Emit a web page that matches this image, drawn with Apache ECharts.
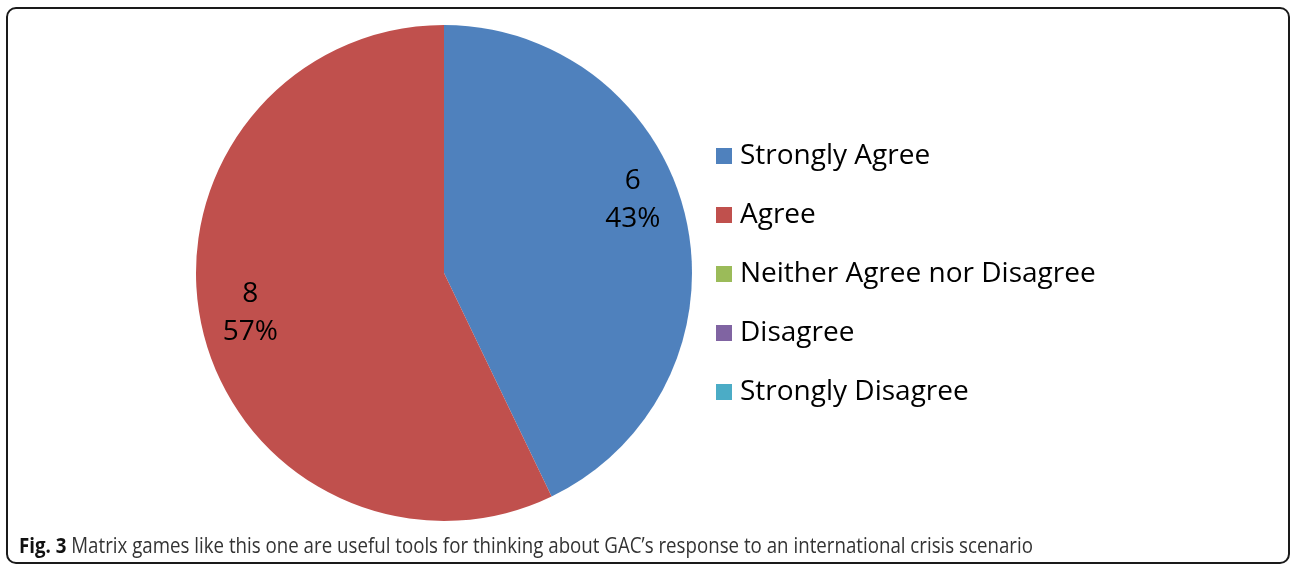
<!DOCTYPE html>
<html>
<head>
<meta charset="utf-8">
<script src="https://cdn.jsdelivr.net/npm/echarts@6/dist/echarts.min.js"></script>
<style>
  html, body { margin: 0; padding: 0; background: #fff; }
  #chart { width: 1292px; height: 567px; }
</style>
</head>
<body>
<div id="chart"></div>
<script>
const categories = ['Strongly Agree', 'Agree', 'Neither Agree nor Disagree', 'Disagree', 'Strongly Disagree'];
const counts = [6, 8, 0, 0, 0];
const colors = ['#4F81BD', '#C0504D', '#9BBB59', '#8064A2', '#4BACC6'];
const captionBold = 'Fig. 3';
const captionText = ' Matrix games like this one are useful tools for thinking about GAC\u2019s response to an international crisis scenario';

const total = counts.reduce((a, b) => a + b, 0);

const chart = echarts.init(document.getElementById('chart'), null, { renderer: 'canvas' });
const center = [444, 273];
const R = 248;

chart.setOption({
  animation: false,
  backgroundColor: '#ffffff',
  color: colors,
  legend: {
    orient: 'vertical',
    left: 711,
    top: 136,
    itemWidth: 16,
    itemHeight: 16,
    itemGap: 29,
    icon: 'rect',
    textStyle: { fontFamily: 'Open Sans', fontSize: 28, color: '#000', lineHeight: 30, padding: [0, 0, 0, 3] },
    data: categories
  },
  series: [
    {
      type: 'pie',
      center: center,
      radius: [0, R],
      startAngle: 90,
      clockwise: true,
      silent: true,
      itemStyle: { borderWidth: 0 },
      label: { show: false },
      labelLine: { show: false },
      data: categories.map((name, i) => ({ name: name, value: counts[i], itemStyle: { color: colors[i] } }))
    },
    {
      type: 'pie',
      center: center,
      radius: [R * 0.62, R],
      startAngle: 90,
      clockwise: true,
      silent: true,
      legendHoverLink: false,
      itemStyle: { color: 'rgba(0,0,0,0)', borderWidth: 0 },
      label: {
        show: true,
        position: 'inside',
        fontFamily: 'Open Sans',
        fontSize: 28,
        lineHeight: 38,
        color: '#000',
        formatter: p => p.value + '\n' + Math.round(p.value / total * 100) + '%'
      },
      labelLine: { show: false },
      labelLayout: function (params) {
        if (params.dataIndex === 0) return { dy: -28, dx: -10 };
        return { dx: 5, dy: -5 };
      },
      data: categories.map((name, i) => ({ name: name, value: counts[i], label: { show: counts[i] > 0 } }))
    }
  ],
  graphic: [
    {
      type: 'rect',
      shape: { x: 7, y: 8, width: 1282, height: 555, r: 9 },
      style: { fill: 'none', stroke: '#1a1a1a', lineWidth: 2 },
      silent: true,
      z: 100
    },
    {
      type: 'text',
      x: 19,
      y: 536,
      scaleX: 0.85,
      style: {
        text: '{b|' + captionBold + '}{n|' + captionText + '}',
        rich: {
          b: { fontFamily: 'Open Sans', fontWeight: 'bold', fontSize: 22, fill: '#111' },
          n: { fontFamily: 'Open Sans', fontSize: 22, fill: '#333' }
        }
      },
      silent: true
    }
  ]
});
</script>
</body>
</html>
